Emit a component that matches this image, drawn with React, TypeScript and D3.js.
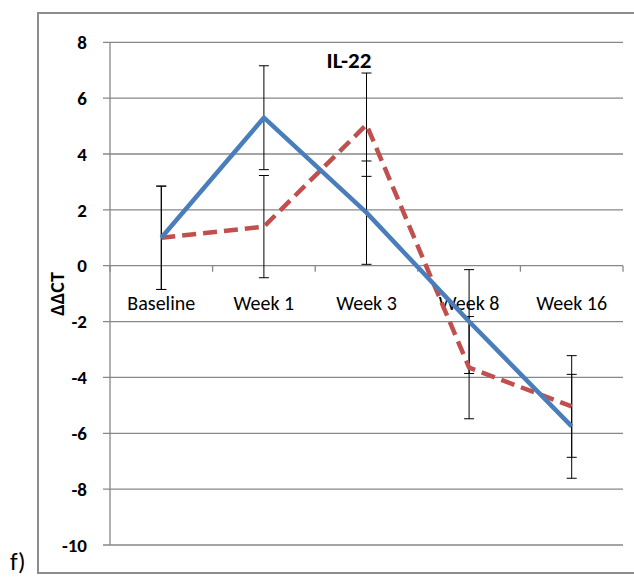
import React from "react";
import * as d3 from "d3";

// Time points and ΔΔCT means with error half-widths for the two groups
const categories = ["Baseline", "Week 1", "Week 3", "Week 8", "Week 16"];
const blueValues = [1.0, 5.3, 1.9, -2.0, -5.75];
const blueErrors = [1.85, 1.86, 1.85, 1.86, 1.86];
const redValues = [1.0, 1.4, 5.05, -3.65, -5.04];
const redErrors = [1.85, 1.83, 1.85, 1.83, 1.82];
const yTicks = [8, 6, 4, 2, 0, -2, -4, -6, -8, -10];

const W = 634;
const H = 582;
const plot = { left: 110, right: 623, top: 42.3, bottom: 545 };

export default function App() {
  const x = d3
    .scaleBand<string>()
    .domain(categories)
    .range([plot.left, plot.right])
    .paddingInner(0)
    .paddingOuter(0);
  const y = d3.scaleLinear().domain([-10, 8]).range([plot.bottom, plot.top]);
  const cx = (c: string) => (x(c) ?? 0) + x.bandwidth() / 2;

  const line = d3
    .line<number>()
    .x((_, i) => cx(categories[i]))
    .y((v) => y(v));

  const errorBars = (vals: number[], errs: number[], key: string) =>
    vals.map((v, i) => {
      const px = cx(categories[i]);
      const top = y(v + errs[i]);
      const bot = y(v - errs[i]);
      return (
        <g key={key + i} stroke="#000" strokeWidth={1}>
          <line x1={px} x2={px} y1={top} y2={bot} />
          <line x1={px - 5} x2={px + 5} y1={top} y2={top} />
          <line x1={px - 5} x2={px + 5} y1={bot} y2={bot} />
        </g>
      );
    });

  const boundaries = [...categories.map((c) => x(c) ?? 0), plot.right];

  return (
    <svg
      width={W}
      height={H}
      style={{ position: "absolute", left: 0, top: 0, background: "#fff" }}
      fontFamily="Carlito, Calibri, Lato, 'Open Sans', sans-serif"
    >
      {/* outer chart frame */}
      <path
        d={`M${W + 2},13 H38 V573 H${W + 2}`}
        fill="none"
        stroke="#8c8c8c"
        strokeWidth={2}
      />

      {/* horizontal gridlines and y ticks */}
      {yTicks.map((t) => (
        <g key={"g" + t}>
          <line
            x1={plot.left - 7}
            x2={plot.right}
            y1={y(t)}
            y2={y(t)}
            stroke="#878787"
            strokeWidth={1.3}
          />
          <text
            x={87}
            y={y(t)}
            dy="0.35em"
            textAnchor="end"
            fontSize={19}
            fontWeight="bold"
            fill="#000"
          >
            {t}
          </text>
        </g>
      ))}

      {/* vertical axis line */}
      <line
        x1={plot.left}
        x2={plot.left}
        y1={plot.top}
        y2={plot.bottom}
        stroke="#878787"
        strokeWidth={1.3}
      />

      {/* category tick marks on the zero line */}
      {boundaries.map((b, i) => (
        <line
          key={"t" + i}
          x1={b}
          x2={b}
          y1={y(0)}
          y2={y(0) + 6}
          stroke="#878787"
          strokeWidth={1.3}
        />
      ))}

      {/* category labels */}
      {categories.map((c) => (
        <text
          key={"c" + c}
          x={cx(c)}
          y={303}
          dy="0.35em"
          textAnchor="middle"
          fontSize={20}
          fill="#000"
        >
          {c}
        </text>
      ))}

      {/* series: error bars then lines */}
      {errorBars(redValues, redErrors, "re")}
      {errorBars(blueValues, blueErrors, "be")}
      <path
        d={line(redValues) ?? ""}
        fill="none"
        stroke="#c0504d"
        strokeWidth={4.5}
        strokeDasharray="14 7"
        strokeLinejoin="round"
      />
      <path
        d={line(blueValues) ?? ""}
        fill="none"
        stroke="#4a7ebb"
        strokeWidth={4.5}
        strokeLinejoin="round"
      />

      {/* title */}
      <text
        x={349}
        y={60}
        dy="0.35em"
        textAnchor="middle"
        fontSize={23}
        fontWeight="bold"
        fill="#000"
      >
        IL-22
      </text>

      {/* y axis title */}
      <text
        transform="translate(57,294) rotate(-90)"
        dy="0.35em"
        textAnchor="middle"
        fontSize={20}
        fontWeight="bold"
        fill="#000"
      >
        ΔΔCT
      </text>

      {/* panel letter */}
      <text x={10} y={570} fontSize={25} fill="#000">
        f)
      </text>
    </svg>
  );
}
